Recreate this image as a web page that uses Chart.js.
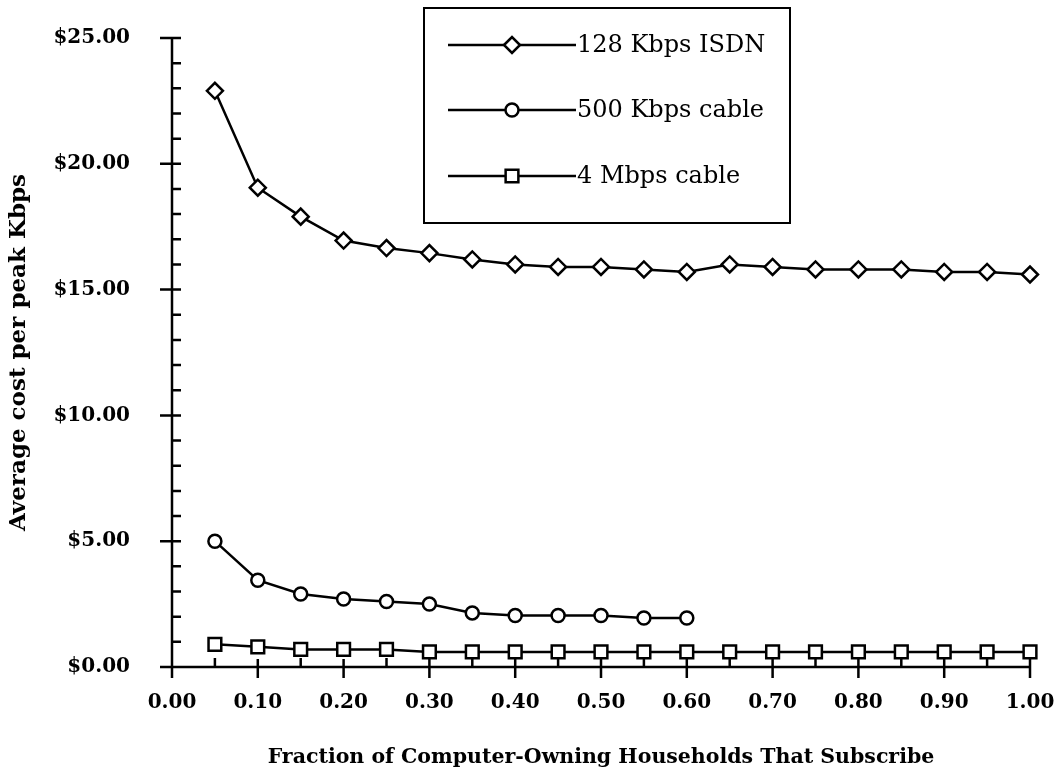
<!DOCTYPE html>
<html>
<head>
<meta charset="utf-8">
<script src="https://cdn.jsdelivr.net/npm/chart.js@4/dist/chart.umd.min.js"></script>
<style>
  html, body { margin: 0; padding: 0; background: #fff; }
  #wrap { width: 1055px; height: 780px; }
</style>
</head>
<body>
<div id="wrap"><canvas id="costChart" width="1055" height="780"></canvas></div>
<script>
const fractions = [0.05, 0.10, 0.15, 0.20, 0.25, 0.30, 0.35, 0.40, 0.45, 0.50,
  0.55, 0.60, 0.65, 0.70, 0.75, 0.80, 0.85, 0.90, 0.95, 1.00];
const isdnCost = [22.9, 19.05, 17.9, 16.95, 16.65, 16.45, 16.2, 16.0, 15.9, 15.9,
  15.8, 15.7, 16.0, 15.9, 15.8, 15.8, 15.8, 15.7, 15.7, 15.6];
const cable500Cost = [5.0, 3.45, 2.9, 2.7, 2.6, 2.5, 2.15, 2.05, 2.05, 2.05, 1.95, 1.95];
const cable4mCost = [0.9, 0.8, 0.7, 0.7, 0.7, 0.6, 0.6, 0.6, 0.6, 0.6,
  0.6, 0.6, 0.6, 0.6, 0.6, 0.6, 0.6, 0.6, 0.6, 0.6];
const seriesNames = ["128 Kbps ISDN", "500 Kbps cable", "4 Mbps cable"];

const FONT = "'DejaVu Serif', 'Liberation Serif', serif";

function toPoints(values) {
  return values.map((value, index) => ({ x: fractions[index], y: value }));
}

function seriesStyle(pointStyle, radius) {
  return {
    borderColor: "#000",
    borderWidth: 2.5,
    pointStyle: pointStyle,
    pointRadius: radius,
    pointHoverRadius: radius,
    pointBackgroundColor: "#fff",
    pointBorderColor: "#000",
    pointBorderWidth: 2.5,
    tension: 0,
    clip: false,
  };
}

// axis lines with crossing major ticks and inside-only minor ticks
const axisTicksPlugin = {
  id: "axisTicks",
  afterDatasetsDraw(chart) {
    const context = chart.ctx;
    const xScale = chart.scales.x;
    const yScale = chart.scales.y;
    const axisX = xScale.left;
    const axisY = yScale.bottom;

    context.save();
    context.strokeStyle = "#000";
    context.lineWidth = 2.5;
    context.lineCap = "butt";

    context.beginPath();
    context.moveTo(axisX, yScale.top);
    context.lineTo(axisX, axisY);
    context.moveTo(axisX, axisY);
    context.lineTo(xScale.right, axisY);

    for (let step = 0; step <= 20; step++) {
      const x = xScale.getPixelForValue(step * 0.05);
      if (step % 2 === 0) {
        context.moveTo(x, axisY - 8);
        context.lineTo(x, axisY + 11);
      } else {
        context.moveTo(x, axisY - 9);
        context.lineTo(x, axisY);
      }
    }

    for (let value = 0; value <= 25; value++) {
      const y = yScale.getPixelForValue(value);
      if (value % 5 === 0) {
        context.moveTo(axisX - 12, y);
        context.lineTo(axisX + 9, y);
      } else {
        context.moveTo(axisX, y);
        context.lineTo(axisX + 9, y);
      }
    }
    context.stroke();
    context.restore();
  },
};

const boxLegendPlugin = {
  id: "boxLegend",
  afterDraw(chart) {
    const context = chart.ctx;
    const boxLeft = 424;
    const boxTop = 8;
    const boxWidth = 366;
    const boxHeight = 215;
    const rowYs = [45, 110, 176];

    context.save();
    context.fillStyle = "#fff";
    context.fillRect(boxLeft, boxTop, boxWidth, boxHeight);
    context.strokeStyle = "#000";
    context.lineWidth = 2;
    context.strokeRect(boxLeft, boxTop, boxWidth, boxHeight);

    chart.data.datasets.forEach((dataset, index) => {
      const y = rowYs[index];
      context.strokeStyle = "#000";
      context.lineWidth = 2.5;
      context.beginPath();
      context.moveTo(448, y);
      context.lineTo(576, y);
      context.stroke();

      context.fillStyle = "#fff";
      context.strokeStyle = "#000";
      context.lineWidth = 2.5;
      Chart.helpers.drawPoint(context, {
        pointStyle: dataset.pointStyle,
        radius: dataset.pointRadius,
        borderWidth: 2.5,
        rotation: 0,
      }, 512, y);

      context.fillStyle = "#000";
      context.font = "24px " + FONT;
      context.textBaseline = "middle";
      context.textAlign = "left";
      context.fillText(dataset.label, 577, y + 1);
    });
    context.restore();
  },
};

new Chart(document.getElementById("costChart"), {
  type: "line",
  data: {
    datasets: [
      Object.assign({ label: seriesNames[0], data: toPoints(isdnCost) }, seriesStyle("rectRot", 8)),
      Object.assign({ label: seriesNames[1], data: toPoints(cable500Cost) }, seriesStyle("circle", 6.5)),
      Object.assign({ label: seriesNames[2], data: toPoints(cable4mCost) }, seriesStyle("rect", 9)),
    ],
  },
  plugins: [axisTicksPlugin, boxLegendPlugin],
  options: {
    responsive: false,
    animation: false,
    events: [],
    layout: {
      padding: { top: 38, right: 25, left: 0, bottom: 0 },
    },
    plugins: {
      legend: { display: false },
      tooltip: { enabled: false },
    },
    scales: {
      x: {
        type: "linear",
        min: 0,
        max: 1,
        afterFit(scale) {
          scale.height = 113;
          scale.paddingLeft = 0;
          scale.paddingRight = 0;
        },
        grid: { display: false },
        border: { display: false },
        ticks: {
          stepSize: 0.1,
          padding: 16,
          color: "#000",
          maxRotation: 0,
          font: { family: FONT, size: 20, weight: "bold" },
          callback: (value) => Number(value).toFixed(2),
        },
        title: {
          display: true,
          text: "Fraction of Computer-Owning Households That Subscribe",
          color: "#000",
          font: { family: FONT, size: 20.5, weight: "bold" },
          padding: { top: 0, bottom: 10 },
        },
      },
      y: {
        min: 0,
        max: 25,
        afterFit(scale) {
          scale.width = 172;
          scale.paddingTop = 0;
          scale.paddingBottom = 0;
        },
        grid: { display: false },
        border: { display: false },
        ticks: {
          stepSize: 5,
          padding: 34,
          color: "#000",
          font: { family: FONT, size: 20, weight: "bold" },
          callback: (value) => "$" + Number(value).toFixed(2),
        },
        title: {
          display: true,
          text: "Average cost per peak Kbps",
          color: "#000",
          font: { family: FONT, size: 23, weight: "bold" },
          padding: { top: 5, bottom: 0 },
        },
      },
    },
  },
});
</script>
</body>
</html>
